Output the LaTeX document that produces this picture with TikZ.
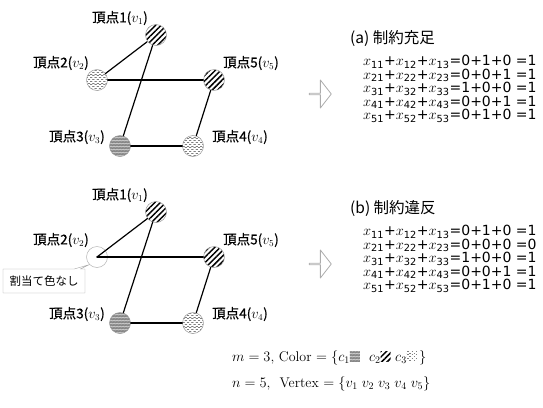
\documentclass[tikz,border=0pt]{standalone}
\usepackage{fontspec}
\newfontfamily\jp{Noto Sans CJK JP}
\newfontfamily\jpb{Noto Sans CJK JP}[FakeBold=0.6]
\newfontfamily\eqf{DejaVu Sans}
\usetikzlibrary{patterns,patterns.meta,shapes.callouts,shapes.arrows}

% fill patterns for the three colours
\pgfdeclarepatternformonly{wavy}{\pgfqpoint{-0.5pt}{-0.5pt}}{\pgfqpoint{3.5pt}{3.5pt}}{\pgfqpoint{3pt}{3pt}}{
  \pgfsetlinewidth{0.5pt}
  \pgfpathmoveto{\pgfqpoint{0pt}{0pt}}
  \pgfpathlineto{\pgfqpoint{0.75pt}{1pt}}
  \pgfpathlineto{\pgfqpoint{1.5pt}{0pt}}
  \pgfpathlineto{\pgfqpoint{2.25pt}{1pt}}
  \pgfpathlineto{\pgfqpoint{3pt}{0pt}}
  \pgfpathmoveto{\pgfqpoint{0pt}{2pt}}
  \pgfpathlineto{\pgfqpoint{0.75pt}{1.5pt}}
  \pgfpathlineto{\pgfqpoint{1.5pt}{2pt}}
  \pgfpathlineto{\pgfqpoint{2.25pt}{1.5pt}}
  \pgfpathlineto{\pgfqpoint{3pt}{2pt}}
  \pgfusepath{stroke}}
\pgfdeclarepatternformonly{dashrows}{\pgfqpoint{-0.5pt}{-0.5pt}}{\pgfqpoint{4.5pt}{4pt}}{\pgfqpoint{4.4pt}{3.6pt}}{
  \pgfsetlinewidth{0.8pt}
  \pgfpathmoveto{\pgfqpoint{0.2pt}{0pt}}\pgfpathlineto{\pgfqpoint{1.8pt}{0pt}}
  \pgfpathmoveto{\pgfqpoint{2.4pt}{1.8pt}}\pgfpathlineto{\pgfqpoint{4pt}{1.8pt}}
  \pgfusepath{stroke}}

\newcommand\swatch[1]{\tikz[baseline=0pt]\path[#1] (0pt,0pt) rectangle (10pt,10pt);}
\newcommand\xsum[1]{$x$\textsubscript{#11}+$x$\textsubscript{#12}+$x$\textsubscript{#13}}

\begin{document}
\begin{tikzpicture}[x=1pt,y=-1pt,line cap=round,line join=round,
  patA/.style={preaction={fill=gray!35},pattern=wavy,pattern color=black!50},
  patB/.style={preaction={fill=white},pattern={Lines[angle=45,distance=3.9pt,line width=1.5pt]}},
  patC/.style={preaction={fill=white},pattern=dashrows,pattern color=black!50},
  vtx/.style={circle,draw=gray!80,line width=0.5pt,minimum size=21pt,inner sep=0pt},
  colA/.style={vtx,patA},
  colB/.style={vtx,patB},
  colC/.style={vtx,patC},
  nocol/.style={vtx,draw=gray!60},
  edge/.style={line width=1.2pt},
  vlbl/.style={inner sep=0pt,font=\jpb\fontsize{13.5}{15}\selectfont},
  eqn/.style={anchor=west,inner sep=0pt,align=left,font=\eqf\fontsize{14}{13.5}\selectfont},
  ttl/.style={anchor=west,inner sep=0pt,font=\jp\fontsize{15.5}{17}\selectfont},
  harrow/.style={single arrow,draw=gray!65,line width=0.8pt,minimum width=28pt,minimum height=22pt,
    single arrow head extend=7pt,single arrow tip angle=104,inner sep=0pt},
  note/.style={rectangle callout,draw=gray!70,fill=white,inner sep=0pt,minimum width=82pt,minimum height=24pt,
    font=\jp\fontsize{11.5}{13}\selectfont,callout pointer width=6pt},
  fml/.style={anchor=west,inner sep=0pt,font=\fontsize{14}{16}\selectfont}]
  \useasboundingbox (0,0) rectangle (543,407);

  % the two colourings
  \foreach \dy/\g/\stwo/\anc in {0/a/colC/{},177/b/nocol/.center} {
    \node[colB] (v1\g) at (156,{35+\dy}) {};
    \node[\stwo] (v2\g) at (97,{80+\dy}) {};
    \node[colA] (v3\g) at (120,{146+\dy}) {};
    \node[colC] (v4\g) at (193,{146+\dy}) {};
    \node[colB] (v5\g) at (214,{80+\dy}) {};
    \draw[edge] (v1\g) -- (v2\g\anc);
    \draw[edge] (v2\g\anc) -- (v5\g);
    \draw[edge] (v1\g) -- (v3\g);
    \draw[edge] (v3\g) -- (v4\g);
    \draw[edge] (v4\g) -- (v5\g);
    \node[vlbl] (l1\g) at (120,{18+\dy}) {頂点1($v_1$)};
    \node[vlbl] (l2\g) at (61,{63+\dy}) {頂点2($v_2$)};
    \node[vlbl] (l3\g) at (77,{137+\dy}) {頂点3($v_3$)};
    \node[vlbl] (l4\g) at (240,{137+\dy}) {頂点4($v_4$)};
    \node[vlbl] (l5\g) at (251,{63+\dy}) {頂点5($v_5$)};
  }
  \node[note,callout absolute pointer={(v2b.south west)}] (nonote) at (44,281) {割当て色なし};

  \node[harrow] (arra) at (320,94) {};
  \node[harrow] (arrb) at (320,264) {};

  % constraint checks
  \node[ttl] (ttla) at (350,38) {(a) 制約充足};
  \node[eqn] (eqa) at (363,89) {\xsum{1}=0+1+0 =1\\ \xsum{2}=0+0+1 =1\\ \xsum{3}=1+0+0 =1\\
    \xsum{4}=0+0+1 =1\\ \xsum{5}=0+1+0 =1};
  \node[ttl] (ttlb) at (350,208) {(b) 制約違反};
  \node[eqn] (eqb) at (363,259) {\xsum{1}=0+1+0 =1\\ \xsum{2}=0+0+0 =0\\ \xsum{3}=1+0+0 =1\\
    \xsum{4}=0+0+1 =1\\ \xsum{5}=0+1+0 =1};

  \node[fml] (colset) at (232,358) {$m=3$, Color $=\{c_1$\swatch{patA}\ \ $c_2$\swatch{patB}\ $c_3$\swatch{patC}$\,\}$};
  \node[fml] (vtxset) at (232,384) {$n=5$,\ \ Vertex $=\{v_1\;v_2\;v_3\;v_4\;v_5\}$};
\end{tikzpicture}
\end{document}
